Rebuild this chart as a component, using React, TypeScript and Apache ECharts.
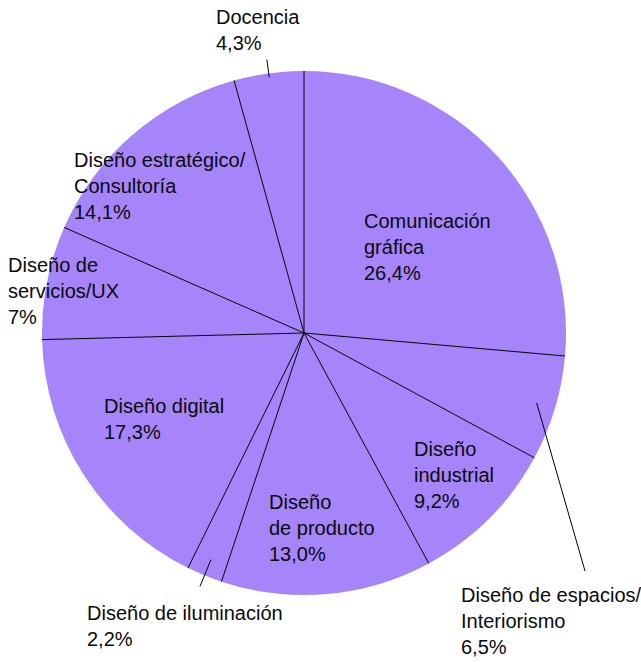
import React, { useEffect, useRef } from "react";
import * as echarts from "echarts";

const categories = [
  "Comunicación\ngráfica",
  "Diseño de espacios/\nInteriorismo",
  "Diseño\nindustrial",
  "Diseño\nde producto",
  "Diseño de iluminación",
  "Diseño digital",
  "Diseño de\nservicios/UX",
  "Diseño estratégico/\nConsultoría",
  "Docencia",
];
const values = [26.4, 6.5, 9.2, 13.0, 2.2, 17.3, 7, 14.1, 4.3];
const valueLabels = ["26,4%", "6,5%", "9,2%", "13,0%", "2,2%", "17,3%", "7%", "14,1%", "4,3%"];

// layout (styles)
const CX = 304;
const CY = 333;
const R = 262;
const FILL = "#a685fb";
const labelPos: number[][] = [
  [364, 208],
  [461, 582],
  [414, 436],
  [269, 489],
  [87, 600],
  [104, 393],
  [8, 252],
  [74, 147],
  [216, 4],
];

export default function App() {
  const ref = useRef<HTMLDivElement>(null);
  useEffect(() => {
    if (!ref.current) return;
    const chart = echarts.init(ref.current, undefined, { renderer: "svg" });
    const total = values.reduce((a, b) => a + b, 0);
    const cum: number[] = [];
    let acc = 0;
    values.forEach((v) => {
      cum.push(acc);
      acc += v;
    });
    const pt = (frac: number, r: number) => {
      const a = frac * 2 * Math.PI;
      return [CX + r * Math.sin(a), CY - r * Math.cos(a)];
    };
    const graphics: any[] = [];
    cum.forEach((c) => {
      const p = pt(c / total, R);
      graphics.push({
        type: "line",
        z: 10,
        shape: { x1: CX, y1: CY, x2: p[0], y2: p[1] },
        style: { stroke: "#000", lineWidth: 1 },
      });
    });
    const mid = (i: number) => (cum[i] + values[i] / 2) / total;
    const leaders = [
      { i: 8, r1: 258, r2: 276 },
      { i: 4, r1: 245, r2: 274 },
    ];
    leaders.forEach((l) => {
      const a = pt(mid(l.i), l.r1);
      const b = pt(mid(l.i), l.r2);
      graphics.push({
        type: "line",
        z: 10,
        shape: { x1: a[0], y1: a[1], x2: b[0], y2: b[1] },
        style: { stroke: "#000", lineWidth: 1 },
      });
    });
    {
      const a = pt(mid(1), 243);
      graphics.push({
        type: "line",
        z: 10,
        shape: { x1: a[0], y1: a[1], x2: 585, y2: 571 },
        style: { stroke: "#000", lineWidth: 1 },
      });
    }

    chart.setOption({
      animation: false,
      backgroundColor: "#ffffff",
      graphic: graphics,
      series: [
        {
          type: "pie",
          center: [CX, CY],
          radius: R,
          startAngle: 90,
          clockwise: true,
          avoidLabelOverlap: false,
          itemStyle: { color: FILL, borderWidth: 0 },
          emphasis: { disabled: true },
          label: {
            show: true,
            position: "inside",
            color: "#0a0a0a",
            fontFamily: "'Liberation Sans', Arial, sans-serif",
            fontSize: 20,
            lineHeight: 26,
            align: "left",
            formatter: (p: any) => `${p.name}\n${valueLabels[p.dataIndex]}`,
          },
          labelLine: { show: false },
          labelLayout: (params: any) => {
            const pos = labelPos[params.dataIndex];
            return { x: pos[0], y: pos[1], align: "left", verticalAlign: "top" };
          },
          data: categories.map((c, i) => ({ name: c, value: values[i] })),
        },
      ],
    });
    return () => chart.dispose();
  }, []);
  return (
    <div
      ref={ref}
      style={{ position: "absolute", left: 0, top: 0, width: 641, height: 662 }}
    />
  );
}
